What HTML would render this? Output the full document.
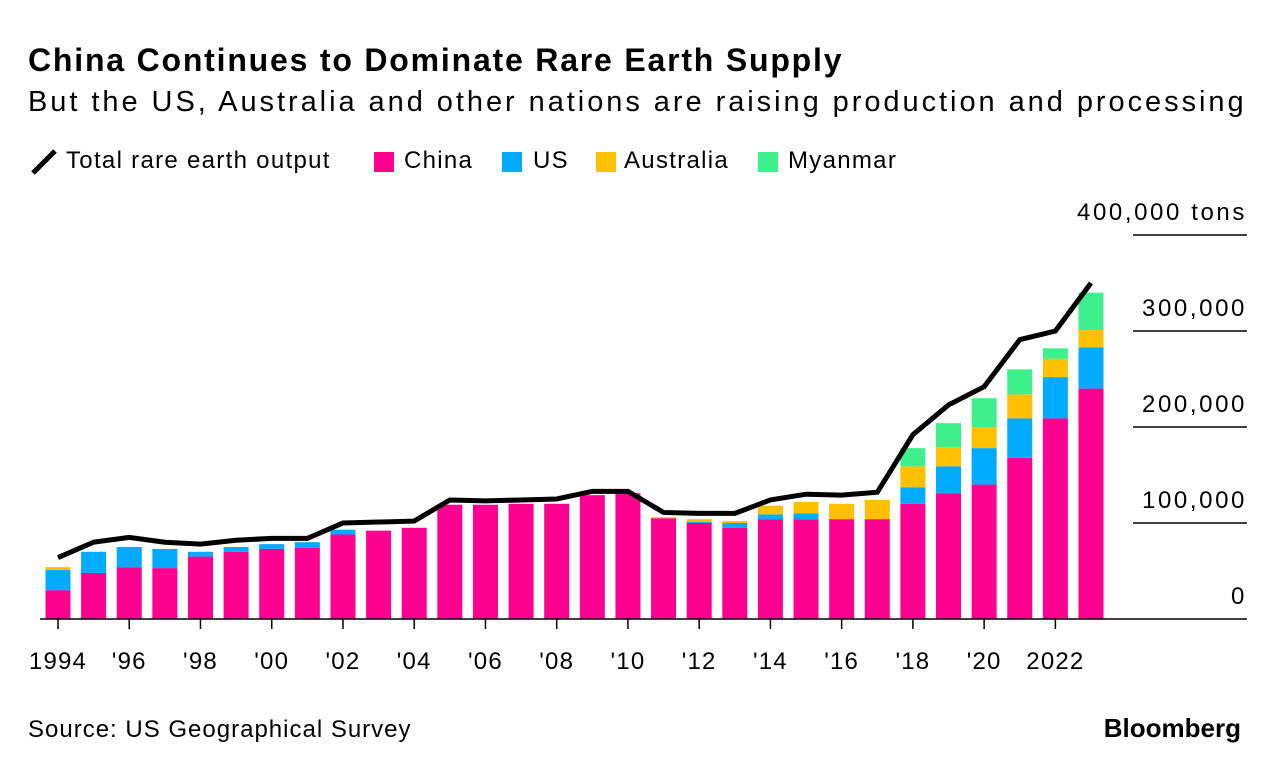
<!DOCTYPE html>
<html><head><meta charset="utf-8"><style>
body{margin:0;width:1279px;height:772px;background:#fff;font-family:"Liberation Sans",sans-serif;color:#000;overflow:hidden;position:relative}
.t{position:absolute;white-space:nowrap}
.box{position:absolute;width:20px;height:20px}
.lg{position:absolute;top:147px;font-size:24px;letter-spacing:1.3px;white-space:nowrap}
</style></head><body>
<div class="t" style="left:28px;top:42px;font-size:32px;font-weight:bold;letter-spacing:1.8px">China Continues to Dominate Rare Earth Supply</div>
<div class="t" style="left:28px;top:86px;font-size:29px;letter-spacing:2.95px">But the US, Australia and other nations are raising production and processing</div>
<div>
<svg style="position:absolute;left:30px;top:148px" width="28" height="28"><line x1="3" y1="25" x2="25" y2="3" stroke="#000" stroke-width="5"/></svg>
<div class="lg" style="left:66px">Total rare earth output</div>
<div class="box" style="left:374px;top:152px;background:#ff0090"></div>
<div class="lg" style="left:404px">China</div>
<div class="box" style="left:502px;top:152px;background:#00aaff"></div>
<div class="lg" style="left:533px">US</div>
<div class="box" style="left:596px;top:152px;background:#ffc000"></div>
<div class="lg" style="left:624px">Australia</div>
<div class="box" style="left:758px;top:152px;background:#3ef08c"></div>
<div class="lg" style="left:788px">Myanmar</div>
</div>
<svg id="chart" width="1279" height="772" style="position:absolute;left:0;top:0"></svg>
<div class="t" style="left:28px;top:716px;font-size:24px;letter-spacing:1px">Source: US Geographical Survey</div>
<div class="t" style="right:38px;top:713px;font-size:26px;font-weight:bold;letter-spacing:0px">Bloomberg</div>
<script>
const years=[1994,1995,1996,1997,1998,1999,2000,2001,2002,2003,2004,2005,2006,2007,2008,2009,2010,2011,2012,2013,2014,2015,2016,2017,2018,2019,2020,2021,2022,2023];
const china=[30,48,54,53,65,70,73,74,88,92,95,119,119,120,120,129,131,105,100,95,104,104,104,104,120,131,140,168,209,240];
const us=[21,22,21,20,5,5,5,6,5,0,0,0,0,0,0,0,0,0,1,5,5,6,0,0,17,28,38,41,43,43];
const australia=[3,0,0,0,0,0,0,0,0,0,0,0,0,0,0,0,0,1,3,2,9,12,16,20,22,20,22,25,19,18];
const myanmar=[0,0,0,0,0,0,0,0,0,0,0,0,0,0,0,0,0,0,0,0,0,0,0,0,19,25,30,26,11,39];
const total=[64,80,85,80,78,82,84,84,100,101,102,124,123,124,125,133,133,111,110,110,124,130,129,132,192,223,242,291,300,350];
const yTicks=[0,100,200,300,400];
const xTickLabels=["1994","'96","'98","'00","'02","'04","'06","'08","'10","'12","'14","'16","'18","'20","2022"];
const NS="http://www.w3.org/2000/svg";
const svg=document.getElementById('chart');
const y0=619,pxPer=0.96;
const yS=v=>y0-v*pxPer;
const xS=i=>58+i*(1091-58)/29;
const bw=25;
function mk(tag,at){const e=document.createElementNS(NS,tag);for(const k in at)e.setAttribute(k,at[k]);svg.appendChild(e);return e;}
yTicks.forEach(t=>{
 if(t>0){const g=mk('line',{x1:1133,x2:1247,y1:yS(t),y2:yS(t),stroke:'#000','stroke-width':1.5});
 
 }
 const tx=mk('text',{x:1247,y:yS(t)-15,'text-anchor':'end','font-size':24,'letter-spacing':'2.6','font-family':'Liberation Sans'});
 tx.textContent=t===0?'0':(t*1000).toLocaleString('en-US')+(t===400?' tons':'');
 
 
});
const series=[[china,'#ff0090','china'],[us,'#00aaff','us'],[australia,'#ffc000','australia'],[myanmar,'#3ef08c','myanmar']];
years.forEach((yr,i)=>{
 let base=0;
 series.forEach(([arr,col,nm])=>{
  const v=arr[i]; if(v<=0)return;
  const r=mk('rect',{x:xS(i)-bw/2,y:yS(base+v),width:bw,height:v*pxPer,fill:col});
  
  
  base+=v;
 });
});
const ax=mk('line',{x1:40,x2:1247,y1:y0,y2:y0,stroke:'#000','stroke-width':1.5});


xTickLabels.forEach((lb,k)=>{
 const i=k*2;
 const tk=mk('line',{x1:xS(i),x2:xS(i),y1:y0,y2:y0+10,stroke:'#000','stroke-width':1.5});
 
 
 const tx=mk('text',{x:xS(i),y:669,'text-anchor':'middle','font-size':24,'letter-spacing':'1.2','font-family':'Liberation Sans'});
 tx.textContent=lb;
 
 
});
const ln=mk('polyline',{points:total.map((v,i)=>xS(i)+','+yS(v)).join(' '),fill:'none',stroke:'#000','stroke-width':5,'stroke-linejoin':'miter'});


</script>
</body></html>
